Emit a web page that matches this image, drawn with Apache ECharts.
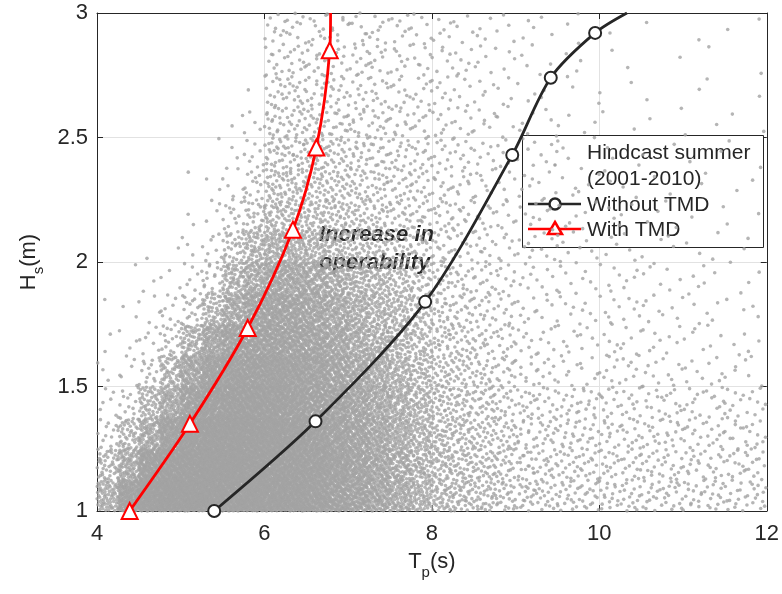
<!DOCTYPE html>
<html>
<head>
<meta charset="utf-8">
<script src="https://cdn.jsdelivr.net/npm/echarts@6/dist/echarts.min.js"></script>
<style>
html,body{margin:0;padding:0;background:#fff;}
#chart{width:782px;height:594px;}
</style>
</head>
<body>
<div id="chart"></div>
<script>
// ---- Data ----
// Hindcast cloud: points per cell (Tp bin 0.25 s x Hs bin 0.125 m), rows from Hs=1.0 upward
const tpBins = [4.0,4.25,4.5,4.75,5.0,5.25,5.5,5.75,6.0,6.25,6.5,6.75,7.0,7.25,7.5,7.75,8.0,8.25,8.5,8.75,9.0,9.25,9.5,9.75,10.0,10.25,10.5,10.75,11.0,11.25,11.5,11.75];
const tpStep = 0.25;
const hsBins = [1.0,1.125,1.25,1.375,1.5,1.625,1.75,1.875,2.0,2.125,2.25,2.375,2.5,2.625,2.75,2.875];
const hsStep = 0.125;
const hindcastDensity = [
  [70,180,245,275,280,280,275,260,245,228,208,182,150,120,92,66,46,40,34,28,22,20,19,18,17,17,16,16,15,15,14,14],
  [40,90,195,245,265,275,275,260,245,228,208,175,145,115,88,62,43,36,30,25,20,18,17,16,15,15,14,14,13,13,12,12],
  [12,45,90,175,228,245,255,245,234,215,195,162,135,106,82,58,40,33,27,22,17,16,15,14,13,13,12,12,11,11,10,10],
  [6,12,50,95,162,208,228,228,215,195,175,150,122,96,74,52,35,29,24,19,14,13,12,12,11,11,10,10,9,9,8,8],
  [3,6,14,55,115,162,188,195,188,175,156,130,105,82,62,44,30,25,20,16,9,8,7,6,8,7,6,6,5,5,4,3],
  [2,3,7,18,60,112,150,162,162,153,136,112,88,70,52,38,26,21,17,13,8,7,6,5,6,6,5,4,4,3,3,2],
  [1,2,4,8,16,50,92,136,143,136,120,98,76,60,45,32,22,18,14,11,7,6,5,5,6,5,5,4,3,3,2,2],
  [0,1,2,3,6,18,60,88,114,110,99,80,62,50,38,27,19,15,12,10,6,5,5,4,5,4,4,3,3,2,2,2],
  [0,0,1,1,3,8,30,55,70,66,56,46,36,30,24,20,16,13,10,8,7,6,5,4,3,3,2,2,2,2,1,1],
  [0,0,0,0,2,4,12,25,40,40,37,32,28,24,20,17,14,11,9,7,6,5,4,3,3,2,2,2,1,1,1,1],
  [0,0,0,0,1,2,6,14,30,30,29,26,23,20,17,14,12,10,8,6,5,4,3,3,2,2,1,1,1,1,1,1],
  [0,0,0,0,0,1,3,8,24,25,24,22,19,17,15,13,11,9,7,6,5,4,3,2,2,1,1,1,1,1,1,1],
  [0,0,0,0,0,0,2,4,19,19,18,16,15,13,12,10,9,7,6,5,4,3,2,2,1,1,1,1,1,1,1,1],
  [0,0,0,0,0,0,0,1,15,15,14,13,12,11,10,9,8,6,5,4,3,3,2,1,1,1,1,0,1,1,0,1],
  [0,0,0,0,0,0,0,0,12,12,12,11,11,10,9,8,7,6,5,4,3,2,2,1,1,1,0,1,0,1,0,1],
  [0,0,0,0,0,0,0,0,10,10,10,9,9,9,8,7,6,5,4,4,3,2,2,1,1,0,1,0,1,0,1,1]
];

// Operability limit curves
const withoutTp = [5.40, 6.61, 7.92, 8.96, 9.42, 9.95, 10.33];
const withoutHs = [1.00, 1.36, 1.84, 2.43, 2.74, 2.92, 3.00];
const withTp = [4.39, 5.11, 5.80, 6.34, 6.62, 6.78, 6.79];
const withHs = [1.00, 1.35, 1.735, 2.13, 2.46, 2.85, 3.00];
const markerCount = 6; // last point of each curve is only the line end (no marker)

const xTicks = [4, 6, 8, 10, 12];
const yTicks = [1, 1.5, 2, 2.5, 3];

// ---- Build hindcast points from the density table ----
function halton(i, b) { let f = 1, r = 0; while (i > 0) { f /= b; r += f * (i % b); i = Math.floor(i / b); } return r; }
const hindcast = [];
let k = 1;
for (let r = 0; r < hsBins.length; r++) {
  for (let c = 0; c < tpBins.length; c++) {
    const n = hindcastDensity[r][c];
    for (let m = 0; m < n; m++) {
      hindcast.push([tpBins[c] + tpStep * halton(k, 2), hsBins[r] + hsStep * halton(k, 3)]);
      k++;
    }
  }
}
function curve(tp, hs) {
  return tp.map((t, i) => i < markerCount ? [t, hs[i]] : { value: [t, hs[i]], symbol: 'none' });
}

const FONT = '"Liberation Sans", Arial, Helvetica, sans-serif';
const TXT = '#262626';
const chart = echarts.init(document.getElementById('chart'), null, { renderer: 'canvas' });

const nameRich = {
  n: { fontSize: 22, lineHeight: 26, verticalAlign: 'top', fontFamily: FONT, color: TXT },
  s: { fontSize: 15, lineHeight: 16, padding: [14, 0, 0, 0], verticalAlign: 'top', fontFamily: FONT, color: TXT }
};
const baseX = {
  type: 'value', min: xTicks[0], max: xTicks[xTicks.length - 1], interval: 2
};
const baseY = {
  type: 'value', min: yTicks[0], max: yTicks[yTicks.length - 1], interval: 0.5
};
const axisLine = { show: true, onZero: false, lineStyle: { color: TXT, width: 1 } };
const axisTick = { show: true, inside: true, length: 6, lineStyle: { color: TXT, width: 1 } };

chart.setOption({
  animation: false,
  backgroundColor: '#fff',
  grid: { left: 97, right: 14, top: 13, bottom: 83, containLabel: false },
  xAxis: [
    Object.assign({}, baseX, {
      position: 'bottom',
      name: '{n|T}{s|p}{n|(s)}', nameLocation: 'middle', nameGap: 40,
      nameTextStyle: { rich: nameRich },
      axisLine, axisTick,
      axisLabel: { fontSize: 22, color: TXT, fontFamily: FONT, margin: 12 },
      splitLine: { show: true, lineStyle: { color: '#e2e2e2', width: 1 } }
    }),
    Object.assign({}, baseX, {
      position: 'top', axisLine, axisTick,
      axisLabel: { show: false }, splitLine: { show: false }
    })
  ],
  yAxis: [
    Object.assign({}, baseY, {
      position: 'left',
      name: '{n|H}{s|s}{n|(m)}', nameLocation: 'middle', nameGap: 52, nameRotate: 90,
      nameTextStyle: { rich: nameRich },
      axisLine, axisTick,
      axisLabel: { fontSize: 22, color: TXT, fontFamily: FONT, margin: 9 },
      splitLine: { show: true, lineStyle: { color: '#e2e2e2', width: 1 } }
    }),
    Object.assign({}, baseY, {
      position: 'right', axisLine, axisTick,
      axisLabel: { show: false }, splitLine: { show: false }
    })
  ],
  series: [
    {
      name: 'Hindcast summer (2001-2010)', type: 'scatter', data: hindcast,
      symbol: 'circle', symbolSize: 3.6, large: false, progressive: 0,
      itemStyle: { color: '#a3a3a3' }, z: 2, silent: true
    },
    {
      name: 'Without TMD', type: 'line', data: curve(withoutTp, withoutHs),
      smooth: 0.3, symbol: 'emptyCircle', symbolSize: 12, showAllSymbol: true,
      lineStyle: { color: TXT, width: 2.8 },
      itemStyle: { color: TXT, borderColor: TXT, borderWidth: 2.5 }, z: 5
    },
    {
      name: 'With TMD', type: 'line', data: curve(withTp, withHs),
      smooth: 0.3, symbol: 'emptyTriangle', symbolSize: 16, showAllSymbol: true,
      lineStyle: { color: '#ff0000', width: 2.8 },
      itemStyle: { color: '#ff0000', borderColor: '#ff0000', borderWidth: 2.5 }, z: 6
    }
  ],
  graphic: [
    { type: 'text', x: 319, y: 235, z: 20, style: { text: 'Increase in', font: 'italic bold 22px ' + FONT, fill: TXT, verticalAlign: 'middle' } },
    { type: 'text', x: 319, y: 263, z: 20, style: { text: 'operability', font: 'italic bold 22px ' + FONT, fill: TXT, verticalAlign: 'middle' } },
    { type: 'rect', z: 20, shape: { x: 522.5, y: 135.5, width: 241, height: 112 }, style: { fill: '#fff', stroke: TXT, lineWidth: 1 } },
    { type: 'circle', z: 21, shape: { cx: 555, cy: 165, r: 1.8 }, style: { fill: '#a3a3a3' } },
    { type: 'text', x: 587, y: 153, z: 21, style: { text: 'Hindcast summer', font: '21px ' + FONT, fill: TXT, verticalAlign: 'middle' } },
    { type: 'text', x: 587, y: 179, z: 21, style: { text: '(2001-2010)', font: '21px ' + FONT, fill: TXT, verticalAlign: 'middle' } },
    { type: 'line', z: 21, shape: { x1: 528, y1: 204, x2: 581, y2: 204 }, style: { stroke: TXT, lineWidth: 2.5 } },
    { type: 'circle', z: 22, shape: { cx: 555, cy: 204, r: 5.5 }, style: { fill: '#fff', stroke: TXT, lineWidth: 2.5 } },
    { type: 'text', x: 587, y: 205, z: 21, style: { text: 'Without TMD', font: '21px ' + FONT, fill: TXT, verticalAlign: 'middle' } },
    { type: 'line', z: 21, shape: { x1: 528, y1: 229, x2: 581, y2: 229 }, style: { stroke: '#ff0000', lineWidth: 2.5 } },
    { type: 'polygon', z: 22, shape: { points: [[555, 222], [562, 234], [548, 234]] }, style: { fill: '#fff', stroke: '#ff0000', lineWidth: 2.5 } },
    { type: 'text', x: 587, y: 230, z: 21, style: { text: 'With TMD', font: '21px ' + FONT, fill: TXT, verticalAlign: 'middle' } }
  ]
});
</script>
</body>
</html>
